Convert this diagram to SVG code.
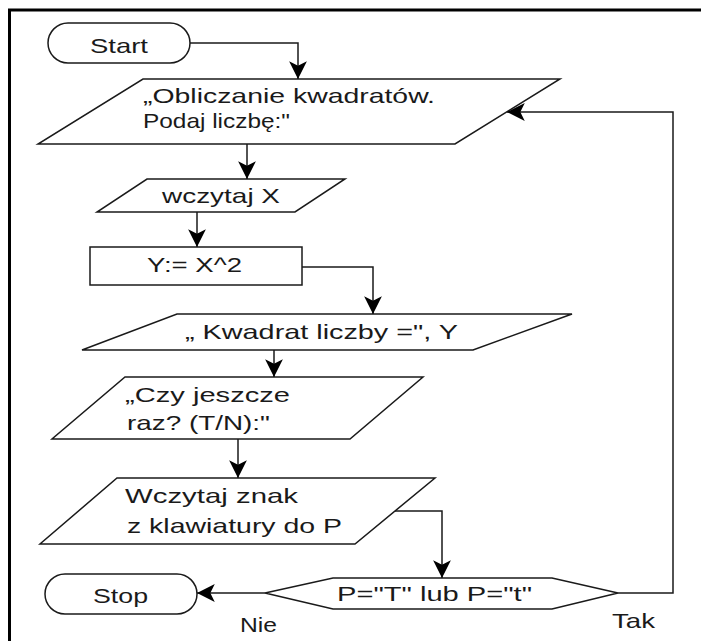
<svg xmlns="http://www.w3.org/2000/svg" width="701" height="641" viewBox="0 0 701 641">
<style>
.shape{fill:#fff;stroke:#1a1a1a;stroke-width:1.5}
.conn{fill:none;stroke:#1a1a1a;stroke-width:1.5}
.t{font-family:"Liberation Sans",Arial,sans-serif;font-size:21px;fill:#1a1a1a}
</style>
<defs>
<marker id="arr" markerUnits="userSpaceOnUse" markerWidth="20" markerHeight="20" viewBox="-17 -9 18 18" refX="0" refY="0" orient="auto">
<path d="M0,0 L-16,-8 L-12,0 L-16,8 Z" fill="#000"/>
</marker>
</defs>
<rect width="701" height="641" fill="#fff"/>
<g id="frame">
<line x1="8" y1="10" x2="701" y2="10" stroke="#000" stroke-width="3"/>
<line x1="9.5" y1="9" x2="9.5" y2="641" stroke="#000" stroke-width="3"/>
</g>
<g id="start">
<rect class="shape" x="48" y="23" width="142" height="40" rx="20" ry="20"/>
<text class="t" x="90" y="53" textLength="58" lengthAdjust="spacingAndGlyphs">Start</text>
</g>
<g id="out1">
<polygon class="shape" points="143,79 560,79 455,144 38,144"/>
<text class="t" x="143" y="103" textLength="292" lengthAdjust="spacingAndGlyphs">„Obliczanie kwadratów.</text>
<text class="t" x="143" y="128" textLength="147" lengthAdjust="spacingAndGlyphs">Podaj liczbę:"</text>
</g>
<g id="in1">
<polygon class="shape" points="147,179 345,179 295,212 97,212"/>
<text class="t" x="162" y="203" textLength="118" lengthAdjust="spacingAndGlyphs">wczytaj X</text>
</g>
<g id="calc">
<rect class="shape" x="90" y="247" width="212" height="38"/>
<text class="t" x="147" y="272" textLength="95" lengthAdjust="spacingAndGlyphs">Y:= X^2</text>
</g>
<g id="out2">
<polygon class="shape" points="177,314 572,314 473,350 82,350"/>
<text class="t" x="185" y="339" textLength="273" lengthAdjust="spacingAndGlyphs">„ Kwadrat liczby =", Y</text>
</g>
<g id="out3">
<polygon class="shape" points="125,377 423,377 350,439 52,439"/>
<text class="t" x="125" y="402" textLength="165" lengthAdjust="spacingAndGlyphs">„Czy jeszcze</text>
<text class="t" x="127" y="430" textLength="143" lengthAdjust="spacingAndGlyphs">raz? (T/N):"</text>
</g>
<g id="in2">
<polygon class="shape" points="117,478 435,478 355,544 40,544"/>
<text class="t" x="125" y="503" textLength="173" lengthAdjust="spacingAndGlyphs">Wczytaj znak</text>
<text class="t" x="127" y="533" textLength="215" lengthAdjust="spacingAndGlyphs">z klawiatury do P</text>
</g>
<g id="decision">
<polygon class="shape" points="265,593 333,578 552,578 618,593 552,609 333,609"/>
<text class="t" x="337" y="601" textLength="195" lengthAdjust="spacingAndGlyphs">P="T" lub P="t"</text>
</g>
<g id="stop">
<rect class="shape" x="45" y="574" width="152" height="40" rx="20" ry="20"/>
<text class="t" x="93" y="603" textLength="55" lengthAdjust="spacingAndGlyphs">Stop</text>
</g>
<g id="connectors">
<polyline class="conn" points="190,43 298,43 298,79" marker-end="url(#arr)"/>
<polyline class="conn" points="247,144 247,179" marker-end="url(#arr)"/>
<polyline class="conn" points="197,212 197,247" marker-end="url(#arr)"/>
<polyline class="conn" points="302,267 373,267 373,314" marker-end="url(#arr)"/>
<polyline class="conn" points="274,350 274,377" marker-end="url(#arr)"/>
<polyline class="conn" points="238,439 238,478" marker-end="url(#arr)"/>
<polyline class="conn" points="395,511 442,511 442,578" marker-end="url(#arr)"/>
<polyline class="conn" points="265,593 197,593" marker-end="url(#arr)"/>
<polyline class="conn" points="618,593 673,593 673,112 507,112" marker-end="url(#arr)"/>
<text class="t" x="240" y="632" textLength="37" lengthAdjust="spacingAndGlyphs">Nie</text>
<text class="t" x="612" y="628" textLength="43" lengthAdjust="spacingAndGlyphs">Tak</text>
</g>
</svg>
